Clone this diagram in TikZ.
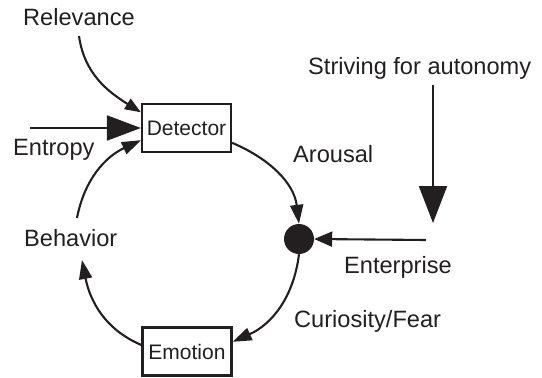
\documentclass[tikz,border=0pt]{standalone}
\usepackage{fontspec}
\setmainfont{Liberation Sans}
\usetikzlibrary{arrows.meta}
\definecolor{ink}{HTML}{231F20}
\begin{document}
\begin{tikzpicture}[x=1pt,y=1pt,
  lbl/.style={font=\fontsize{23.6}{27}\selectfont, text=ink, inner sep=0pt, anchor=base west},
  stage/.style={draw=ink, line width=2.2pt, fill=white, minimum width=89pt, minimum height=48pt,
                inner sep=0pt, font=\fontsize{21}{24}\selectfont, text=ink},
  link/.style={draw=ink, line width=2.1pt},
  smallhead/.style={-{Triangle[length=19pt,width=13pt]}},
  relhead/.style={-{Triangle[length=16pt,width=12pt]}},
  bighead/.style={-{Triangle[length=34pt,width=25pt]}},
  tallhead/.style={-{Triangle[length=37pt,width=28pt]}},
  medhead/.style={-{Triangle[length=18pt,width=15pt]}}]
\useasboundingbox (0,0) rectangle (542,-378);

% the two stage boxes and the junction
\node[stage] (det) at (186.5,-128) {Detector};
\node[stage] (emo) at (187,-351.5) {Emotion};
\node[circle, fill=ink, minimum size=30pt, inner sep=0pt] (dot) at (299,-239) {};

% labels
\node[lbl] (rel) at (23,-25) {Relevance};
\node[lbl] (ent) at (13,-155) {Entropy};
\node[lbl] (str) at (308,-74) {Striving for autonomy};
\node[lbl] (aro) at (293,-162) {Arousal};
\node[lbl] (beh) at (24,-246) {Behavior};
\node[lbl] (ent2) at (344,-273) {Enterprise};
\node[lbl] (cur) at (294,-327) {Curiosity/Fear};

% free ends of the input arrows
\coordinate (relstart) at (79,-36);
\coordinate (entstart) at (30,-128);
\coordinate (strstart) at (433,-85);
\coordinate (strend) at (433,-223);
\coordinate (entpstart) at (426,-240);
\coordinate (behlow) at (82,-260);
\coordinate (behhigh) at (77,-218);

% inputs
\draw[link, relhead] (relstart) to[out=-82, in=148] (det.161);
\draw[link, bighead] (entstart) -- (det.west);
\draw[link, tallhead] (strstart) -- (strend);
\draw[link, medhead] (entpstart) -- (dot.east);

% the loop
\draw[link, smallhead] (det.-18) to[out=-23, in=97] (dot.north);
\draw[link, smallhead] (dot.south) to[out=-97, in=24] (emo.12);
\draw[link, smallhead] (emo.west |- 0,-345) to[out=157, in=-79] (behlow);
\draw[link, smallhead] (behhigh) to[out=79, in=205] (det.195);
\end{tikzpicture}
\end{document}
